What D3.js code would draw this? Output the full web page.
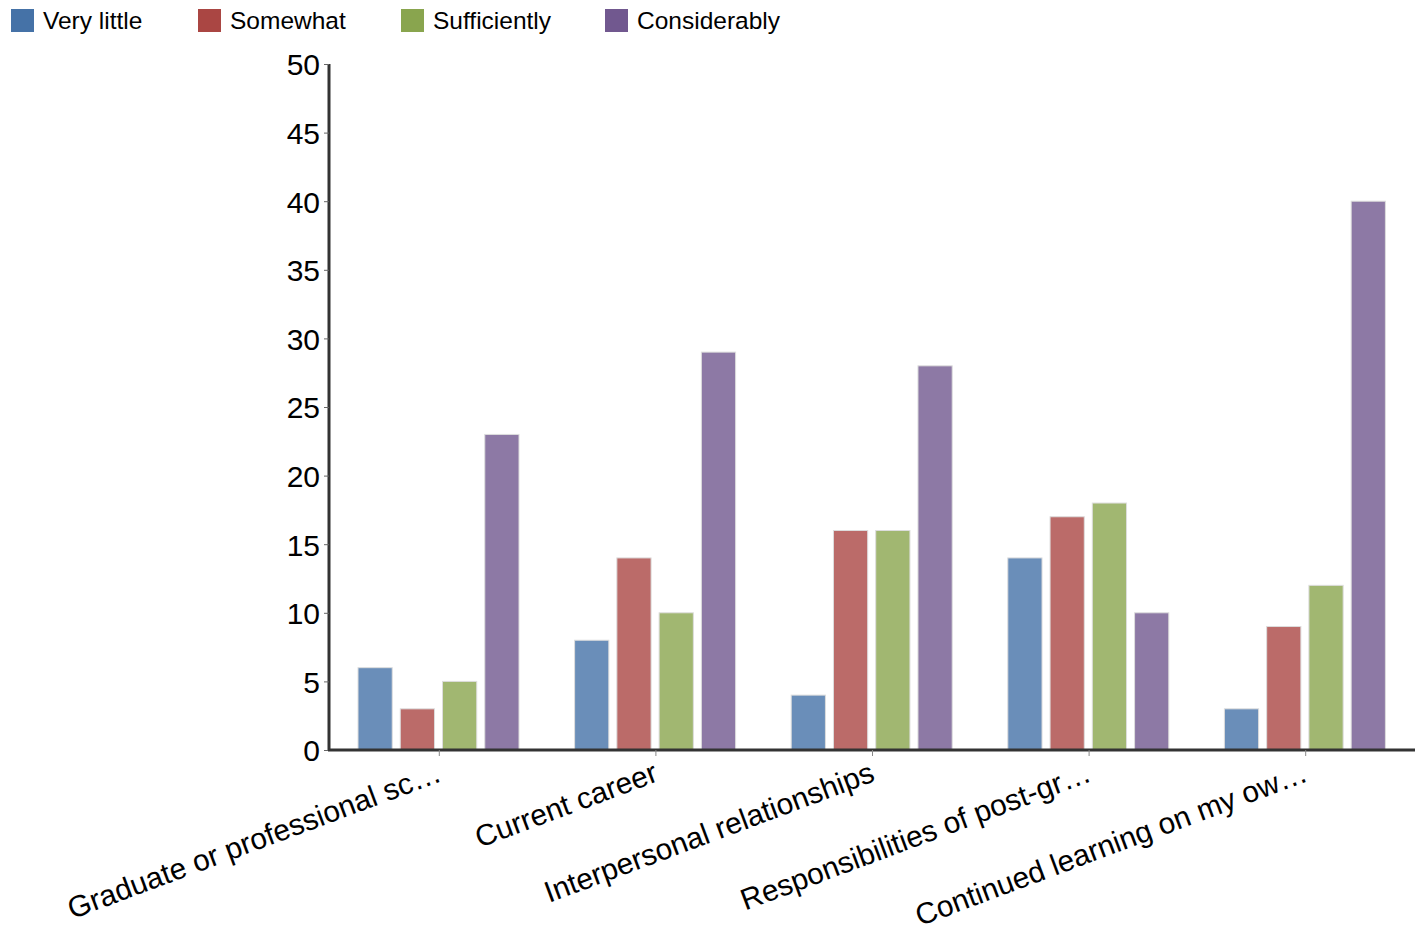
<!DOCTYPE html>
<html><head><meta charset="utf-8">
<script src="https://cdn.jsdelivr.net/npm/d3@7"></script>
<style>body{margin:0;background:#fff}svg{display:block}text{font-family:"Liberation Sans",Arial,sans-serif}</style>
</head><body><svg id="c" width="1425" height="934"></svg>
<script>
const categories=["Graduate or professional sc…","Current career","Interpersonal relationships","Responsibilities of post-gr…","Continued learning on my ow…"];
const seriesNames=["Very little","Somewhat","Sufficiently","Considerably"];
const veryLittle=[6,8,4,14,3];
const somewhat=[3,14,16,17,9];
const sufficiently=[5,10,16,18,12];
const considerably=[23,29,28,10,40];
const yTicks=[0,5,10,15,20,25,30,35,40,45,50];
const colors=["#4572a7","#aa4643","#89a54e","#71588f"];
const series=[veryLittle,somewhat,sufficiently,considerably];

const svg=d3.select("#c");
const x0=d3.scaleBand().domain(categories).range([331,1414]).paddingInner(0).paddingOuter(0);
const x1=d3.scaleBand().domain(seriesNames).range([27,188]).paddingInner(0.19);
const y=d3.scaleLinear().domain([0,50]).range([750,64]);

categories.forEach((c,i)=>{
  svg.append("g").selectAll("rect").data(seriesNames).join("rect")
    .attr("x",s=>x0(c)+x1(s)).attr("width",x1.bandwidth())
    .attr("y",(s,j)=>y(series[j][i])).attr("height",(s,j)=>y(0)-y(series[j][i]))
    .attr("fill",(s,j)=>colors[j]).attr("fill-opacity",0.8)
    .attr("stroke","#ddd").attr("stroke-width",1);
});

const ya=svg.append("g").attr("transform","translate(329,0)")
  .call(d3.axisLeft(y).tickValues(yTicks).tickSize(5).tickPadding(4));
ya.select(".domain").attr("stroke","#333").attr("stroke-width",3).attr("d","M0,64V751");
ya.selectAll(".tick line").attr("stroke","#666");
ya.selectAll(".tick text").attr("font-size",30).attr("fill","#000").attr("dy","0.36em")
  .attr("font-family","Liberation Sans, Arial, sans-serif");

const xa=svg.append("g").attr("transform","translate(0,750)")
  .call(d3.axisBottom(x0).tickSize(6).tickPadding(8));
xa.select(".domain").attr("stroke","#333").attr("stroke-width",3).attr("d","M328,0H1415");
xa.selectAll(".tick line").attr("stroke","#888");
xa.selectAll(".tick text").attr("font-size",29.8).attr("fill","#000")
  .attr("font-family","Liberation Sans, Arial, sans-serif")
  .attr("text-anchor","end").attr("dy","0")
  .attr("transform","translate(0,32) rotate(-20.5)").attr("y",0).attr("x",4);

const lx=[11,198,401,605];
const lg=svg.append("g").selectAll("g").data(seriesNames).join("g")
  .attr("transform",(d,i)=>`translate(${lx[i]},9)`);
lg.append("rect").attr("width",23).attr("height",23).attr("fill",(d,i)=>colors[i]);
lg.append("text").attr("x",32).attr("y",20).attr("font-size",24.5).attr("fill","#000").text(d=>d);
</script></body></html>
